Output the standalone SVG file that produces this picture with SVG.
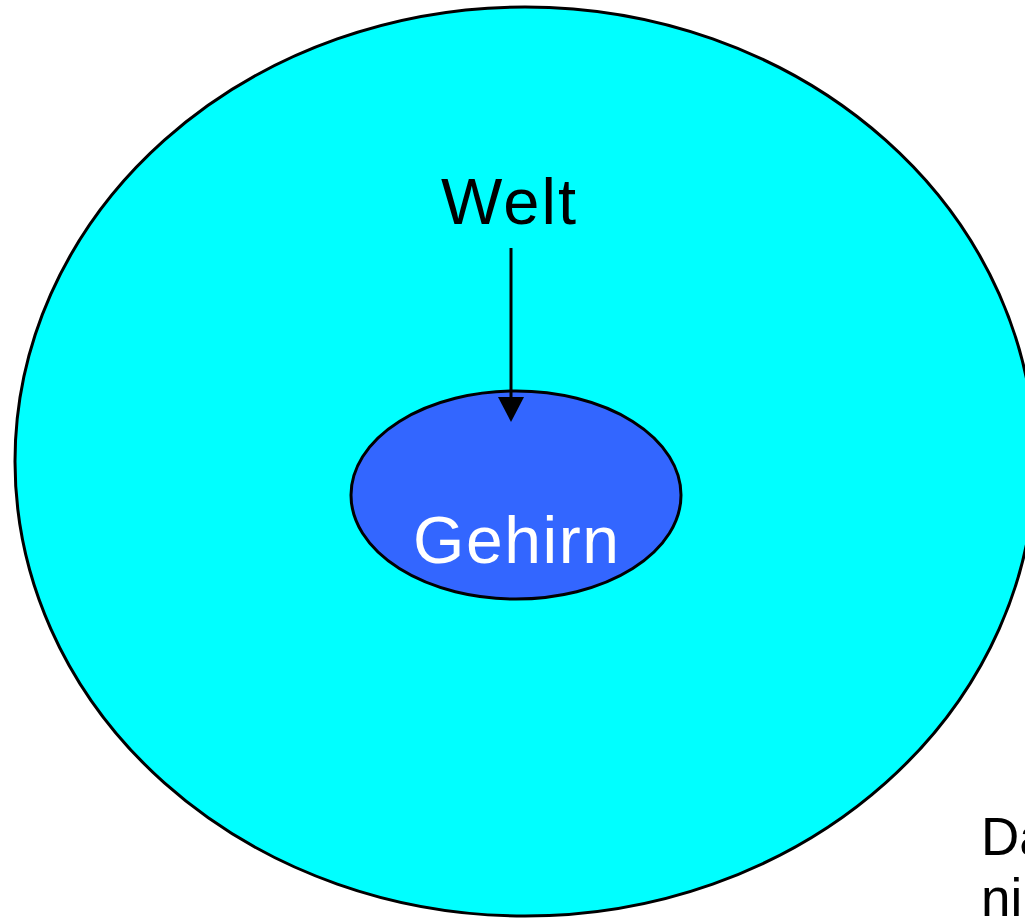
<svg xmlns="http://www.w3.org/2000/svg" width="1025" height="919" viewBox="0 0 1025 919">
<style>
.lbl{font-family:"Liberation Sans",Arial,sans-serif;}
</style>
<rect width="1025" height="919" fill="#fff"/>
<g id="welt">
<ellipse cx="525" cy="461.5" rx="510" ry="454.5" fill="#00FFFF" stroke="#000" stroke-width="3"/>
<text class="lbl" x="508.5" y="224" font-size="65" text-anchor="middle" fill="#000" textLength="135" lengthAdjust="spacing">Welt</text>
</g>
<g id="gehirn">
<ellipse cx="516" cy="495" rx="165" ry="104" fill="#3366FF" stroke="#000" stroke-width="3"/>
<text class="lbl" x="516" y="563" font-size="66" text-anchor="middle" fill="#fff" textLength="206" lengthAdjust="spacing">Gehirn</text>
</g>
<g id="connectors">
<line x1="511" y1="248" x2="511" y2="397" stroke="#000" stroke-width="3"/>
<path d="M498,397 L524,397 L511,422 Z" fill="#000"/>
</g>
<g id="note">
<text class="lbl" x="981" y="855" font-size="53" fill="#000">Da</text>
<text class="lbl" x="981" y="916" font-size="53" fill="#000">ni</text>
</g>
</svg>
